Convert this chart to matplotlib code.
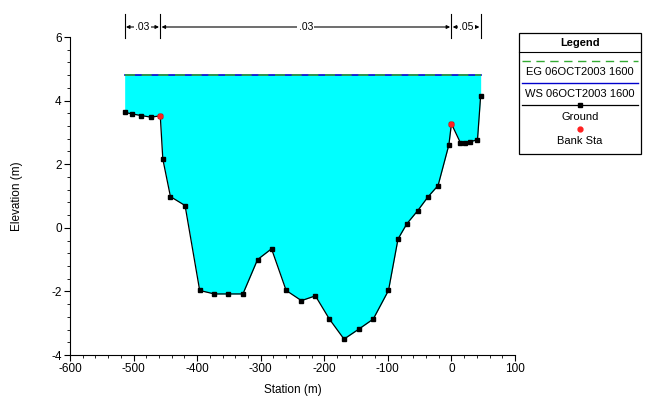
"""Cross section plot: ground profile, water surface and bank stations."""

import matplotlib

matplotlib.use("Agg")
import matplotlib.pyplot as plt
import numpy as np
from matplotlib.lines import Line2D
from matplotlib.ticker import MultipleLocator
from matplotlib.transforms import blended_transform_factory

plt.rcParams["font.family"] = ["Liberation Sans", "DejaVu Sans"]
plt.rcParams["axes.unicode_minus"] = False

# ground profile (station m, elevation m)
station = [-514, -502, -488, -473, -458, -454, -442, -419, -396, -373, -351,
           -328, -305, -283, -260, -236, -214, -192, -169, -146, -123, -99,
           -84, -70, -53, -37, -21, -4, 0, 14, 22, 30, 41, 46]
elevation = [3.63, 3.58, 3.53, 3.48, 3.52, 2.16, 0.98, 0.70, -1.97, -2.08,
             -2.08, -2.08, -1.00, -0.66, -1.97, -2.29, -2.14, -2.87, -3.50,
             -3.19, -2.87, -1.97, -0.35, 0.13, 0.54, 0.97, 1.33, 2.61, 3.27,
             2.68, 2.68, 2.71, 2.77, 4.16]
bank_station = [-458, 0]
bank_elev = [3.52, 3.27]
ws_elev = 4.81
eg_elev = 4.82

# Manning's n zones along the top
n_edges = [-514, -458, 0, 46]
n_values = [".03", ".03", ".05"]

W, H = 652, 396
fig = plt.figure(figsize=(W / 100, H / 100), dpi=100)
ax = fig.add_axes([70 / W, 1 - 355 / H, 445 / W, 318 / H])

sta = np.array(station)
elv = np.array(elevation)
ax.fill_between(sta, elv, ws_elev, color="#00ffff", linewidth=0, zorder=1)
ax.plot([sta[0], sta[-1]], [ws_elev, ws_elev], color="#0000cc", lw=1.2, zorder=2)
ax.plot([sta[0], sta[-1]], [eg_elev, eg_elev], color="#33aa33", lw=1.2,
        dashes=(6, 4), zorder=3)
ax.plot(sta, elv, color="black", lw=0.9, marker="s", markersize=3.5, zorder=4)
ax.plot(bank_station, bank_elev, "o", color="#ff2020", markersize=3.5, zorder=5)

ax.set_xlim(-600, 100)
ax.set_ylim(-4, 6)
ax.xaxis.set_major_locator(MultipleLocator(100))
ax.xaxis.set_minor_locator(MultipleLocator(20))
ax.yaxis.set_major_locator(MultipleLocator(2))
ax.yaxis.set_minor_locator(MultipleLocator(0.4))
ax.tick_params(which="major", length=4, width=0.8, labelsize=8.5, pad=2)
ax.tick_params(which="minor", length=2, width=0.6)
for side in ("top", "right"):
    ax.spines[side].set_visible(False)
ax.set_xlabel("Station (m)", fontsize=8.5, labelpad=6)
ax.set_ylabel("Elevation (m)", fontsize=8.5, labelpad=20)

# n value bars above the plot
trans = blended_transform_factory(ax.transData, fig.transFigure)
y_top, y_bot, y_arr = 1 - 14 / H, 1 - 38 / H, 1 - 27 / H
for x in n_edges:
    ax.add_line(Line2D([x, x], [y_bot, y_top], transform=trans, color="black",
                       lw=0.8, clip_on=False))
for (x0, x1), label in zip(zip(n_edges[:-1], n_edges[1:]), n_values):
    ax.annotate("", xy=(x0 + 2, y_arr), xytext=(x1 - 2, y_arr), xycoords=trans,
                textcoords=trans, annotation_clip=False,
                arrowprops=dict(arrowstyle="<|-|>", lw=0.8, color="black",
                                mutation_scale=5, shrinkA=0, shrinkB=0))
    ax.text((x0 + x1) / 2, y_arr, label, transform=trans, ha="center",
            va="center", fontsize=7.5,
            bbox=dict(facecolor="white", edgecolor="none", pad=1.0))

# legend box drawn by hand in pixel coordinates
def fx(px):
    return px / W


def fy(py):
    return 1 - py / H


fig.add_artist(plt.Rectangle((fx(519), fy(154)), fx(641) - fx(519),
                             fy(33) - fy(154), fill=False, lw=0.9,
                             edgecolor="black", transform=fig.transFigure))
fig.text(fx(580), fy(43), "Legend", ha="center", va="center", fontsize=8,
         fontweight="bold")
fig.add_artist(Line2D([fx(519), fx(641)], [fy(52), fy(52)], color="black",
                      lw=0.8, transform=fig.transFigure))
fig.add_artist(Line2D([fx(522), fx(638)], [fy(61), fy(61)], color="#33aa33",
                      lw=1.0, dashes=(6, 4), transform=fig.transFigure))
fig.text(fx(580), fy(72), "EG 06OCT2003 1600", ha="center", va="center",
         fontsize=8)
fig.add_artist(Line2D([fx(522), fx(638)], [fy(83), fy(83)], color="#0000cc",
                      lw=1.0, transform=fig.transFigure))
fig.text(fx(580), fy(94), "WS 06OCT2003 1600", ha="center", va="center",
         fontsize=8)
fig.add_artist(Line2D([fx(522), fx(638)], [fy(105), fy(105)], color="black",
                      lw=0.9, transform=fig.transFigure))
fig.add_artist(Line2D([fx(580)], [fy(105)], color="black", marker="s",
                      markersize=3.5, transform=fig.transFigure))
fig.text(fx(580), fy(117), "Ground", ha="center", va="center", fontsize=8)
fig.add_artist(Line2D([fx(580)], [fy(129)], color="#ff2020", marker="o",
                      markersize=3.5, transform=fig.transFigure))
fig.text(fx(580), fy(141), "Bank Sta", ha="center", va="center", fontsize=8)

fig.savefig("out.png", dpi=100)
